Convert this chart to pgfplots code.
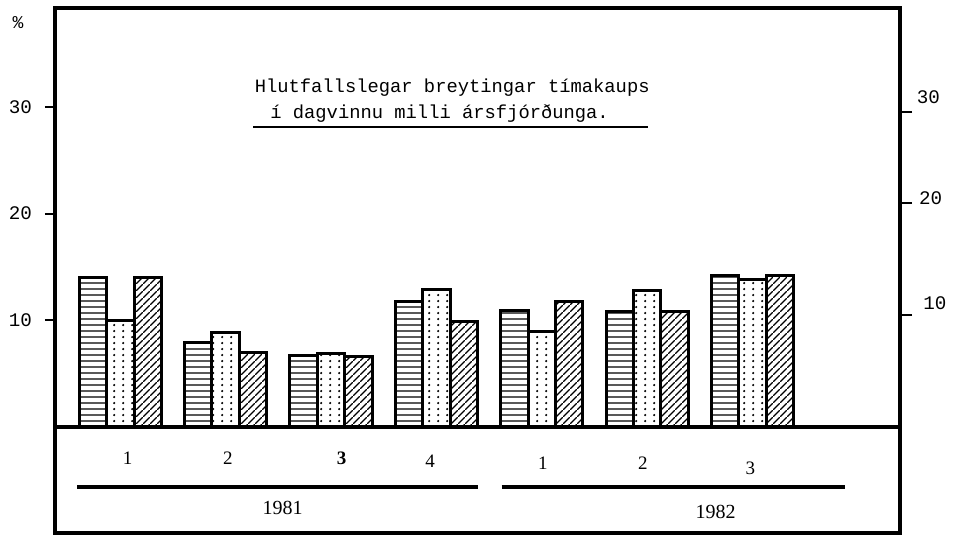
\documentclass[border=0pt]{standalone}
\usepackage{fontspec}
\setmainfont{Liberation Serif}
\newfontfamily\mono{Liberation Mono}
\usepackage{pgfplots}
\pgfplotsset{compat=1.18}
\usetikzlibrary{patterns.meta}

\tikzdeclarepattern{
  name=hlines, type=uncolored,
  bounding box={(0pt,0pt) and (3.2pt,3.2pt)},
  tile size={(3.2pt,3.2pt)},
  code={\draw[line width=0.75pt] (0pt,1.6pt) -- (3.2pt,1.6pt);}
}
\tikzdeclarepattern{
  name=mydots, type=uncolored,
  bounding box={(0pt,0pt) and (4.6pt,3.2pt)},
  tile size={(4.6pt,3.2pt)},
  code={\fill (2.3pt,1.6pt) circle (0.65pt);}
}
\tikzdeclarepattern{
  name=diag, type=uncolored,
  bounding box={(0pt,0pt) and (3.6pt,3.6pt)},
  tile size={(3.6pt,3.6pt)},
  code={\draw[line width=0.7pt] (-0.3pt,-0.3pt) -- (3.9pt,3.9pt);}
}

\begin{document}
\begin{tikzpicture}
\path[use as bounding box] (-27.5pt,-2.5pt) rectangle (449.5pt,266.5pt);
\begin{axis}[
  at={(0pt,0pt)}, anchor=south west,
  scale only axis, width=422.5pt, height=262.5pt,
  xmin=-0.62, xmax=7.40, ymin=-9.93, ymax=39.27,
  clip=false,
  axis line style={line width=2pt},
  xtick=\empty,
  ytick={10,20,30},
  ytick pos=left,
  tick align=outside,
  major tick length=5pt,
  major tick style={line width=1pt, black},
  /pgf/number format/assume math mode=true,
  yticklabel style={font=\mono\fontsize{9.6}{11}\selectfont, xshift=-3pt},
  ybar, bar width=0.26,
]
\addplot[draw=black, line width=1.5pt, bar shift=-0.26, pattern=hlines]
  coordinates {(0,14.0) (1,7.9) (2,6.75) (3,11.75) (4,10.9) (5,10.8) (6,14.2)};
\addplot[draw=black, line width=1.5pt, bar shift=0, pattern=mydots]
  coordinates {(0,10.0) (1,8.85) (2,6.85) (3,12.85) (4,8.95) (5,12.75) (6,13.8)};
\addplot[draw=black, line width=1.5pt, bar shift=0.26, pattern=diag]
  coordinates {(0,14.0) (1,7.0) (2,6.6) (3,9.9) (4,11.75) (5,10.8) (6,14.2)};

\draw[line width=2pt] (axis cs:-0.62,0) -- (axis cs:7.40,0);

\node[font=\mono\fontsize{9}{10}\selectfont] at (axis cs:-0.97,37.86) {\%};
\node[font=\mono\fontsize{9.6}{11}\selectfont] at (axis cs:7.67,30.93) {30};
\node[font=\mono\fontsize{9.6}{11}\selectfont] at (axis cs:7.69,21.46) {20};
\node[font=\mono\fontsize{9.6}{11}\selectfont] at (axis cs:7.73,11.62) {10};

\node[font=\mono\fontsize{9.4}{11}\selectfont] at (axis cs:3.15,31.85) {Hlutfallslegar breytingar tímakaups};
\node[font=\mono\fontsize{9.4}{11}\selectfont] at (axis cs:3.03,29.33) {í dagvinnu milli ársfjórðunga.};
\draw[line width=0.8pt] (axis cs:1.26,28.12) -- (axis cs:5.01,28.12);

\begin{scope}[every node/.style={font=\fontsize{9.5}{11}\selectfont}]
\node at (axis cs:0.07,-2.91) {1};
\node at (axis cs:1.02,-2.91) {2};
\node at (axis cs:2.10,-2.91) {\textbf{3}};
\node at (axis cs:2.94,-3.19) {4};
\node at (axis cs:4.01,-3.37) {1};
\node at (axis cs:4.96,-3.37) {2};
\node at (axis cs:5.98,-3.84) {3};
\end{scope}
\draw[line width=1.8pt] (axis cs:-0.41,-5.62) -- (axis cs:3.39,-5.62);
\draw[line width=1.8pt] (axis cs:3.62,-5.62) -- (axis cs:6.88,-5.62);
\node[font=\fontsize{10}{12}\selectfont] at (axis cs:1.54,-7.59) {1981};
\node[font=\fontsize{10}{12}\selectfont] at (axis cs:5.65,-7.97) {1982};
\end{axis}

\begin{axis}[
  at={(0pt,0pt)}, anchor=south west,
  scale only axis, width=422.5pt, height=262.5pt,
  xmin=-0.62, xmax=7.40, ymin=-9.93, ymax=39.27,
  axis x line=none, axis y line*=right,
  y axis line style={draw=none},
  ytick={10.5,21,29.5}, yticklabels={},
  tick align=outside,
  major tick length=6pt,
  major tick style={line width=1pt, black},
]
\end{axis}
\end{tikzpicture}
\end{document}
